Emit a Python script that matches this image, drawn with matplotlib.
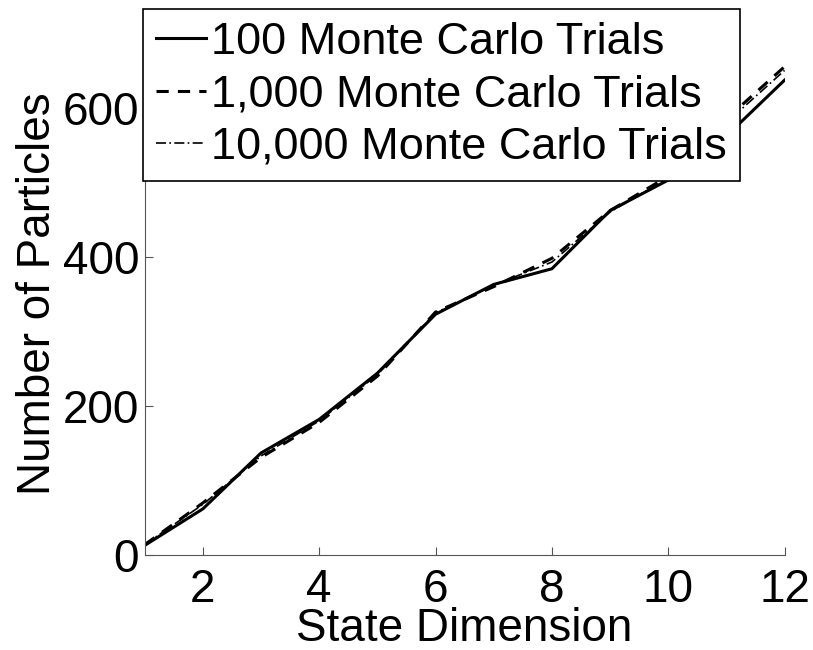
import numpy as np
import matplotlib
matplotlib.use("Agg")
import matplotlib.pyplot as plt

# state dimension vs number of particles needed
dims = [1, 2, 3, 4, 5, 6, 7, 8, 9, 10, 11, 12]
mc_100 = [13, 62, 137, 182, 244, 323, 363, 384, 462, 503, 562, 637]
mc_1000 = [14, 70, 131, 178, 240, 326, 360, 398, 462, 508, 585, 655]
mc_10000 = [14, 68, 133, 180, 242, 325, 362, 393, 460, 506, 580, 650]

labels = ["100 Monte Carlo Trials", "1,000 Monte Carlo Trials", "10,000 Monte Carlo Trials"]
xticks = [2, 4, 6, 8, 10, 12]
yticks = [0, 200, 400, 600]

plt.rcParams['font.family'] = ['Liberation Sans', 'DejaVu Sans']
fs = 33

fig = plt.figure(figsize=(8.13, 6.5), dpi=100)
ax = fig.add_axes([0.178, 0.146, 0.787, 0.803])

ax.plot(dims, mc_100, color='black', lw=2.2, ls='-', label=labels[0])
ax.plot(dims, mc_1000, color='black', lw=2.2, ls=(0, (4, 3)), label=labels[1])
ax.plot(dims, mc_10000, color='black', lw=1.2, ls=(0, (6, 2, 1, 2)), label=labels[2])

ax.set_xlim(1, 12)
ax.set_ylim(0, 700)
ax.set_xticks(xticks)
ax.set_yticks(yticks)
ax.tick_params(direction='in', labelsize=fs, length=6, color='#555555')
ax.tick_params(axis='x', pad=9)
ax.tick_params(axis='y', pad=4)
for s in ['top', 'right']:
    ax.spines[s].set_visible(False)
for s in ['left', 'bottom']:
    ax.spines[s].set_color('#555555')

ax.set_xlabel("State Dimension", fontsize=fs, labelpad=-3)
ax.set_ylabel("Number of Particles", fontsize=fs, labelpad=2)

leg = ax.legend(loc='upper left', bbox_to_anchor=(-0.003, 1.047), fontsize=32.5,
                frameon=True, fancybox=False, handlelength=1.1, handletextpad=0.1,
                borderpad=0.3, labelspacing=0.25, borderaxespad=0)
leg.get_frame().set_edgecolor('black')
leg.get_frame().set_linewidth(1.2)
leg.get_frame().set_alpha(1)

fig.savefig("out.png", dpi=100)
